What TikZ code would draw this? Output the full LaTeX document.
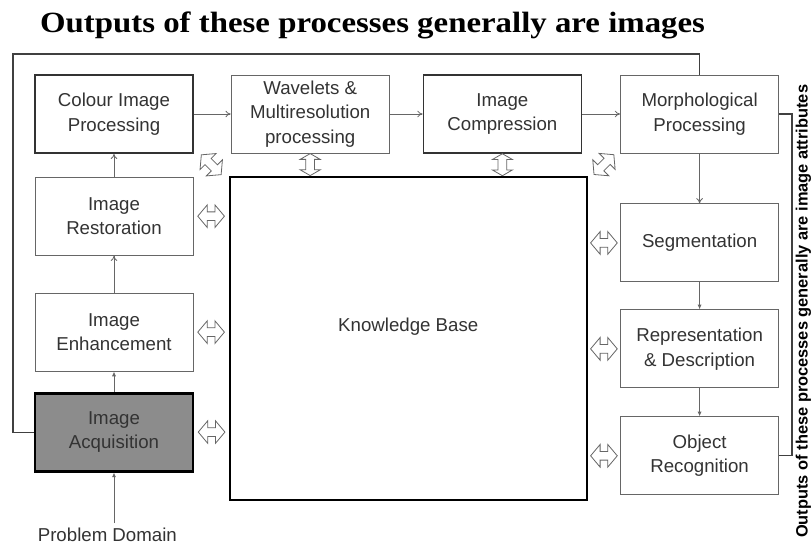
\documentclass[tikz,border=0pt]{standalone}
\usepackage{fontspec}
\setmainfont{Liberation Serif}
\setsansfont{Liberation Sans}
\usetikzlibrary{shapes.arrows, arrows.meta, positioning, calc}

\definecolor{boxline}{HTML}{666666}
\definecolor{boxtext}{HTML}{333333}
\definecolor{acqfill}{HTML}{8C8C8C}

\begin{document}
\begin{tikzpicture}[
  proc/.style={rectangle, draw=boxline, line width=0.7pt, fill=white,
               text=boxtext, minimum width=118.5pt, minimum height=58.5pt,
               inner sep=2pt, align=center,
               font=\sffamily\fontsize{14}{18.5}\selectfont},
  heavy/.style={draw=black!80, line width=1.1pt},
  plain/.style={text=boxtext, font=\sffamily\fontsize{14}{18.5}\selectfont},
  flow/.style={-{To[length=4pt, width=5pt]}, draw=boxline, line width=0.6pt},
  fflow/.style={-{Latex[length=3.5pt, width=3pt]}, draw=boxline, line width=0.6pt},
  feedback/.style={draw=black!75, line width=0.8pt},
  kblink/.style={double arrow, draw=boxline, fill=white, line width=0.6pt,
                 inner sep=2.8pt, minimum height=20pt, minimum width=17pt,
                 double arrow head extend=5pt, double arrow tip angle=100},
]
  \useasboundingbox (0,0) rectangle (608.25pt,-411pt);
  \fill[white] (0,0) rectangle (608.25pt,-411pt);

  \node[font=\rmfamily\bfseries\fontsize{22}{26}\selectfont] (title)
    at (279.4pt,-19pt) {\scalebox{1.12}[1]{Outputs of these processes generally are images}};

  % top row
  \node[proc, heavy] (colour) at (85.5pt,-85.5pt) {Colour Image\\Processing};
  \node[proc, right=27.75pt of colour] (wavelets) {Wavelets \&\\Multiresolution\\processing};
  \node[proc, heavy, right=24.75pt of wavelets] (compress) {Image\\Compression};
  \node[proc, right=28.5pt of compress] (morph) {Morphological\\Processing};

  % left column
  \node[proc, below=17.25pt of colour] (restore) {Image\\Restoration};
  \node[proc, below=27.75pt of restore] (enhance) {Image\\Enhancement};
  \node[proc, fill=acqfill, draw=black, line width=2.2pt, below=15pt of enhance] (acquire) {Image\\Acquisition};
  \node[plain, below=38pt of acquire, xshift=-5pt] (domain) {Problem Domain};

  % right column
  \node[proc, below=37.5pt of morph] (segment) {Segmentation};
  \node[proc, below=20.25pt of segment] (represent) {Representation\\\& Description};
  \node[proc, below=21pt of represent] (recog) {Object\\Recognition};

  % knowledge base
  \node[draw=black, line width=1.5pt, minimum width=267.75pt, minimum height=242.25pt,
        below right=16.5pt and 26.25pt of colour,
        label={[plain, yshift=9pt]center:Knowledge Base}] (kb) {};

  \draw[flow] (colour) -- (wavelets);
  \draw[flow] (wavelets) -- (compress);
  \draw[flow] (compress) -- (morph);
  \draw[flow] (restore) -- (colour);
  \draw[flow] (enhance) -- (restore);
  \draw[fflow] (acquire) -- (enhance);
  \draw[fflow] (acquire.south |- domain.north) -- (acquire.south);
  \draw[flow] (morph) -- (segment);
  \draw[fflow] (segment) -- (represent);
  \draw[fflow] (represent) -- (recog);

  % feedback lines
  \coordinate (loopleft) at (9.75pt,-40.5pt);
  \coordinate (loopright) at (594pt,0pt);
  \draw[feedback] (morph.north) |- (loopleft) |- (acquire.west);
  \draw[feedback] (morph.east) -| (loopright |- recog.east) -- (recog.east);

  \node[rotate=90, font=\sffamily\bfseries\fontsize{12.3}{14}\selectfont] (attrs)
    at (602.5pt,-233.5pt) {Outputs of these processes generally are image attributes};

  % links to the knowledge base
  \node[kblink] (lkrest) at ($(restore.east)!0.5!(restore.east -| kb.west)$) {};
  \node[kblink] (lkenh) at ($(enhance.east)!0.5!(enhance.east -| kb.west)$) {};
  \node[kblink] (lkacq) at ($(acquire.east)!0.5!(acquire.east -| kb.west)$) {};
  \node[kblink] (lkseg) at ($(segment.west)!0.5!(segment.west -| kb.east)$) {};
  \node[kblink] (lkrep) at ($(represent.west)!0.5!(represent.west -| kb.east)$) {};
  \node[kblink] (lkobj) at ($(recog.west)!0.5!(recog.west -| kb.east)$) {};
  \node[kblink, rotate=90, minimum height=16.5pt, minimum width=15pt,
        double arrow head extend=4pt, double arrow tip angle=120] (lkwav)
    at ($(wavelets.south)!0.5!(wavelets.south |- kb.north)$) {};
  \node[kblink, rotate=90, minimum height=16.5pt, minimum width=15pt,
        double arrow head extend=4pt, double arrow tip angle=120] (lkcomp)
    at ($(compress.south)!0.5!(compress.south |- kb.north)$) {};
  \node[kblink, rotate=-45, minimum height=21pt] (lkcol) at ($(colour.south east)!0.5!(kb.north west)$) {};
  \node[kblink, rotate=45, minimum height=21pt] (lkmor) at ($(morph.south west)!0.5!(kb.north east)$) {};
\end{tikzpicture}
\end{document}
